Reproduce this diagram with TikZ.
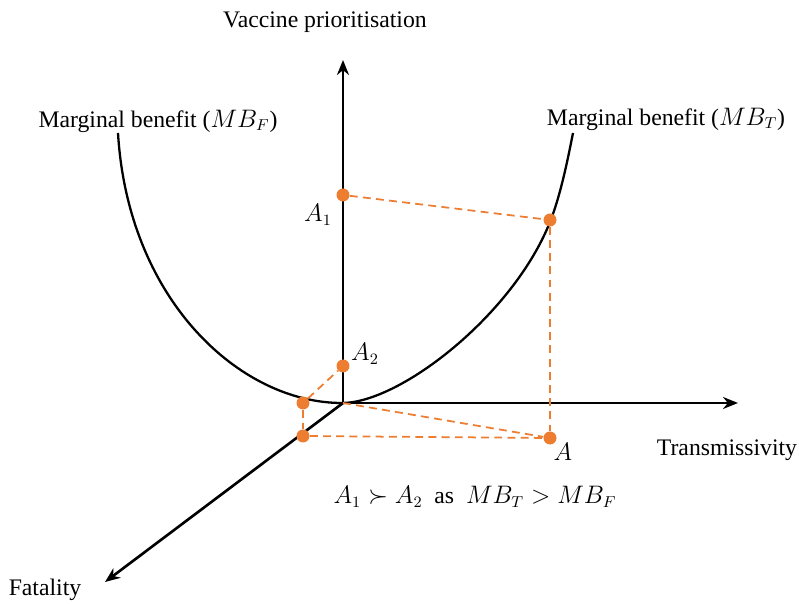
\documentclass[tikz,border=0pt]{standalone}
\usepackage{fontspec}
\setmainfont{Liberation Serif}
\usetikzlibrary{arrows.meta}
\definecolor{vorange}{RGB}{237,125,49}
\tikzset{
  axisline/.style={line width=1.5pt,-{Stealth[length=3mm,width=2.4mm]}},
  mbcurve/.style={line width=1.3pt},
  guide/.style={vorange,line width=1pt,dash pattern=on 4.5pt off 3pt},
  pt/.style={circle,fill=vorange,inner sep=0pt,minimum size=2.6mm},
  txt/.style={font=\fontsize{13.5}{16}\selectfont,inner sep=1pt}
}

\begin{document}
\begin{tikzpicture}[x=0.02cm,y=-0.02cm]
  \useasboundingbox (0,0) rectangle (799,604);

  % axes
  \coordinate (o) at (343,403);
  \coordinate (vtop) at (343,60);
  \coordinate (tend) at (738,403);
  \coordinate (fend) at (105,582);
  \draw[axisline] (o) -- (vtop);
  \draw[axisline] (o) -- (tend);
  \draw[axisline] (o) -- (fend);
  \node[txt] (vlab) at (325,22) {Vaccine prioritisation};
  \node[txt] (tlab) at (727,450) {Transmissivity};
  \node[txt] (flab) at (45,590) {Fatality};

  % marginal benefit curve
  \draw[mbcurve] (118,133) .. controls (128,300) and (240,403) .. (342,403)
    .. controls (400,403) and (513,315) .. (550,222)
    .. controls (561,194) and (568,158) .. (573,133);
  \node[txt] (mbf) at (158,121) {Marginal benefit ($MB_F$)};
  \node[txt] (mbt) at (666,119) {Marginal benefit ($MB_T$)};

  % points
  \node[pt] (a1) at (343,195) {};
  \node[pt] (p) at (550,220) {};
  \node[pt] (a2) at (343,366) {};
  \node[pt] (c) at (303,403) {};
  \node[pt] (q) at (303,436) {};
  \node[pt] (a) at (550,438) {};
  \node[txt] at (318,215) {$A_1$};
  \node[txt] at (365,354) {$A_2$};
  \node[txt] at (563,452) {$A$};

  \draw[guide] (a1) -- (p);
  \draw[guide] (p) -- (a);
  \draw[guide] (o) -- (a);
  \draw[guide] (q) -- (a);
  \draw[guide] (c) -- (q);
  \draw[guide] (c) -- (a2);

  \node[txt] (rel) at (475,497) {$A_1\succ A_2$\ \ as\ \ $MB_T>MB_F$};
\end{tikzpicture}
\end{document}
